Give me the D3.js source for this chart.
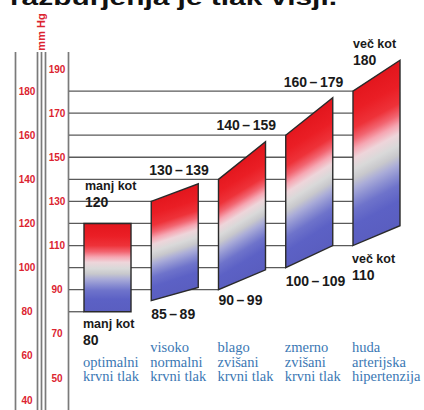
<!DOCTYPE html>
<html><head><meta charset="utf-8">
<script src="https://cdn.jsdelivr.net/npm/d3@7/dist/d3.min.js"></script>
<style>body{margin:0;background:#fff}svg{display:block}</style>
</head><body>
<script>
// ---- data ----
const categories = ["optimalni", "visoko normalni", "blago zvišani", "zmerno zvišani", "huda hipertenzija"];
const categoryLines = [["", "optimalni", "krvni tlak"], ["visoko", "normalni", "krvni tlak"], ["blago", "zvišani", "krvni tlak"], ["zmerno", "zvišani", "krvni tlak"], ["huda", "arterijska", "hipertenzija"]];
const systolicLeft = [120, 130, 140, 160, 180];   // top edge, left corner
const systolicRight = [120, 138, 157, 177, 194];  // top edge, right corner
const diastolicLeft = [80, 85, 90, 100, 110];     // bottom edge, left corner
const diastolicRight = [80, 91, 99, 110, 119];    // bottom edge, right corner
const topLabels = [["manj kot", "120"], ["130", "139"], ["140", "159"], ["160", "179"], ["več kot", "180"]];
const bottomLabels = [["manj kot", "80"], ["85", "89"], ["90", "99"], ["100", "109"], ["več kot", "110"]];
const outerTicks = [40, 60, 80, 100, 120, 140, 160, 180];
const innerTicks = [50, 70, 90, 110, 130, 150, 170, 190];
const gridValues = [80, 90, 100, 110, 120, 130, 140, 150, 160, 170, 180];
const titleText = "razburjenja je tlak višji.";
const unitText = "mm Hg";

// ---- layout ----
const W = 424, H = 410;
const svg = d3.select("body").append("svg").attr("width", W).attr("height", H)
  .style("background", "#fff");

const y = d3.scaleLinear().domain([40, 190]).range([400, 69]);
const x = d3.scaleBand().domain(categories).range([84, 400]).paddingInner(0.301).paddingOuter(0);
const bw = x.bandwidth();

const red = "#dc2430", blueText = "#3b78b4";
const sans = "'Liberation Sans', Arial, sans-serif";

// title (cut off at the top, as in the source picture)
svg.append("text").attr("x", 10).attr("y", 4.5)
  .attr("font-family", sans).attr("font-weight", "bold").attr("font-size", 22)
  .attr("textLength", 327).attr("lengthAdjust", "spacingAndGlyphs")
  .attr("fill", "#111").text(titleText);

// vertical scale lines
const vLines = [15.5, 37.5, 41.5, 45.5, 68.5];
svg.append("g").selectAll("line").data(vLines).join("line")
  .attr("x1", d => d).attr("x2", d => d).attr("y1", 52).attr("y2", H)
  .attr("stroke", "#7a7a7a").attr("stroke-width", 1.7);

// unit label
svg.append("text").attr("transform", "translate(45,32) rotate(-90)")
  .attr("text-anchor", "middle").attr("font-family", sans).attr("font-weight", "bold")
  .attr("font-size", 11).attr("fill", red).text(unitText);

// tick labels
const tickG = svg.append("g").attr("font-family", sans).attr("font-size", 10)
  .attr("font-weight", "bold").attr("fill", red).attr("text-anchor", "middle");
tickG.selectAll("text.o").data(outerTicks).join("text").attr("class", "o")
  .attr("x", 27).attr("y", d => y(d)).attr("dy", "0.36em").text(d => d);
tickG.selectAll("text.i").data(innerTicks).join("text").attr("class", "i")
  .attr("x", 57).attr("y", d => y(d)).attr("dy", "0.36em").text(d => d);

// grid lines: each runs until the first bar whose lower-left corner reaches it
svg.append("g").selectAll("line").data(gridValues).join("line")
  .attr("x1", 69)
  .attr("x2", v => {
    const i = diastolicLeft.findIndex(d => d >= v);
    return i >= 0 ? x(categories[i]) : x(categories[categories.length - 1]);
  })
  .attr("y1", v => y(v)).attr("y2", v => y(v))
  .attr("stroke", "#5a5a5a").attr("stroke-width", 1.3);

// gradients + bars
const stops = [
  [0, "#e3161d"], [0.14, "#ea1e25"], [0.25, "#ee3239"], [0.32, "#f26470"],
  [0.38, "#f6a6b2"], [0.44, "#eed5da"], [0.51, "#d9d9d9"], [0.57, "#c8c8cc"],
  [0.63, "#aaacd8"], [0.69, "#8d91d2"], [0.76, "#6e73cb"], [0.86, "#5c61c5"], [1, "#5a5ec0"]
];
const defs = svg.append("defs");
const bars = categories.map((c, i) => {
  const xl = x(c), xr = xl + bw;
  const ytl = y(systolicLeft[i]), ytr = y(systolicRight[i]);
  const ybl = y(diastolicLeft[i]), ybr = y(diastolicRight[i]);
  return { i, xl, xr, ytl, ytr, ybl, ybr };
});
bars.forEach(b => {
  const s = ((b.ytr - b.ytl) + (b.ybr - b.ybl)) / 2 / bw;
  const norm = Math.sqrt(1 + s * s);
  const cx = (b.xl + b.xr) / 2, cy = (b.ytl + b.ytr) / 2;
  const L = ((b.ybl + b.ybr) / 2 - cy) / norm;
  const g = defs.append("linearGradient").attr("id", "g" + b.i)
    .attr("gradientUnits", "userSpaceOnUse")
    .attr("x1", cx).attr("y1", cy)
    .attr("x2", cx + (-s / norm) * L).attr("y2", cy + (1 / norm) * L);
  stops.forEach(([o, col]) => g.append("stop").attr("offset", o).attr("stop-color", col));
});
svg.append("g").selectAll("path").data(bars).join("path")
  .attr("d", b => `M${b.xl},${b.ytl}L${b.xr},${b.ytr}L${b.xr},${b.ybr}L${b.xl},${b.ybl}Z`)
  .attr("fill", b => `url(#g${b.i})`)
  .attr("stroke", "#2a2a2a").attr("stroke-width", 1.4).attr("stroke-linejoin", "miter");

// value labels
const labG = svg.append("g").attr("font-family", sans).attr("font-weight", "bold").attr("fill", "#1a1a1a");
function rangeLabel(g, xx, yy, lo, hi) {
  const t = g.append("text").attr("x", xx).attr("y", yy).attr("font-size", 14);
  t.append("tspan").text(lo);
  t.append("tspan").attr("dx", 2.5).text("–");
  t.append("tspan").attr("dx", 2.5).text(hi);
}
function twoLine(g, xx, yy, words, num) {
  g.append("text").attr("x", xx).attr("y", yy).attr("font-size", 12.5).text(words);
  g.append("text").attr("x", xx).attr("y", yy + 17).attr("font-size", 14).text(num);
}
const topLastDy = [-14, -9, -12, -11, 7];
bars.forEach(b => {
  const lab = topLabels[b.i];
  const base = b.ytr + topLastDy[b.i];
  if (lab[0].indexOf("kot") >= 0) twoLine(labG, b.xl + (b.i === 0 ? 1 : 0), base - 17 - 2, lab[0], lab[1]);
  else rangeLabel(labG, b.xl - 2, base, lab[0], lab[1]);
});
const botFirstDy = [16, 18, 15, 18, 17];
bars.forEach(b => {
  const lab = bottomLabels[b.i];
  const base = b.ybl + botFirstDy[b.i];
  if (lab[0].indexOf("kot") >= 0) twoLine(labG, b.xl - 1, base, lab[0], lab[1]);
  else rangeLabel(labG, b.xl, base, lab[0], lab[1]);
});

// category labels
const catG = svg.append("g").attr("font-family", "'Liberation Serif', 'Times New Roman', serif")
  .attr("font-size", 14.5).attr("fill", blueText);
categories.forEach((c, i) => {
  categoryLines[i].forEach((line, j) => {
    if (!line) return;
    catG.append("text").attr("x", x(c) - 1).attr("y", 352 + j * 14.5).text(line);
  });
});
</script>
</body></html>
